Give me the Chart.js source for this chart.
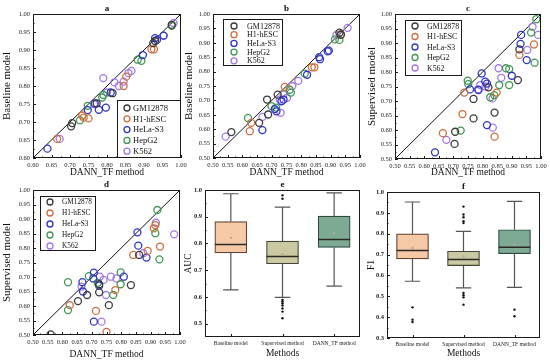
<!DOCTYPE html>
<html>
<head>
<meta charset="utf-8">
<script src="https://cdn.jsdelivr.net/npm/chart.js@4/dist/chart.umd.min.js"></script>
<style>
  body { margin: 0; background: #fff; width: 550px; height: 360px; position: relative; overflow: hidden; }
  canvas { position: absolute; }
</style>
</head>
<body>
<canvas id="pa" width="190" height="178" style="left:0;top:0"></canvas>
<canvas id="pb" width="186" height="178" style="left:182px;top:0"></canvas>
<canvas id="pc" width="185" height="178" style="left:365px;top:0"></canvas>
<canvas id="pd" width="190" height="185" style="left:0;top:175px"></canvas>
<canvas id="pe" width="186" height="185" style="left:182px;top:175px"></canvas>
<canvas id="pf" width="185" height="185" style="left:365px;top:175px"></canvas>
<script>
const SERIF = "'Liberation Serif', 'Times New Roman', serif";

// legend / series
const cellLines = ['GM12878', 'H1-hESC', 'HeLa-S3', 'HepG2', 'K562'];
const cellColors = ['#3a3a3a', '#cc6f3c', '#2f35c8', '#3e9850', '#a478e4'];

// panel a: DANN_TF (x) vs baseline (y)
const aGM12878 = [[0.703,0.688],[0.706,0.697],[0.925,0.919],[0.93,0.925],[0.975,0.970],[0.815,0.780],[0.772,0.752]];
const aH1hESC  = [[0.665,0.653],[0.733,0.718],[0.737,0.712],[0.75,0.710],[0.845,0.800],[0.92,0.902],[0.927,0.902],[0.852,0.826]];
const aHeLaS3  = [[0.639,0.626],[0.797,0.740],[0.778,0.734],[0.767,0.752],[0.748,0.733],[0.897,0.886],[0.93,0.933],[0.953,0.940],[0.81,0.782],[0.935,0.928]];
const aHepG2   = [[0.727,0.705],[0.748,0.745],[0.787,0.768],[0.883,0.873],[0.893,0.870],[0.975,0.967],[0.79,0.775]];
const aK562    = [[0.672,0.653],[0.79,0.822],[0.80,0.782],[0.832,0.800],[0.858,0.836],[0.866,0.842],[0.953,0.940],[0.82,0.810],[0.765,0.750],[0.98,0.975],[0.845,0.812]];

// panel b: DANN_TF (x) vs baseline (y)
const bGM12878 = [[0.5625,0.590],[0.657,0.622],[0.6875,0.651],[0.684,0.703],[0.93,0.935],[0.935,0.928],[0.72,0.720]];
const bH1hESC  = [[0.625,0.593],[0.63,0.622],[0.744,0.747],[0.836,0.815],[0.845,0.815],[0.935,0.930]];
const bHeLaS3  = [[0.668,0.597],[0.716,0.662],[0.733,0.697],[0.74,0.703],[0.861,0.850],[0.864,0.843],[0.894,0.873],[0.89,0.870],[0.82,0.789],[0.71,0.670]];
const bHepG2   = [[0.619,0.639],[0.699,0.680],[0.715,0.675],[0.761,0.737],[0.812,0.793],[0.915,0.912],[0.93,0.910],[0.765,0.727]];
const bK562    = [[0.543,0.574],[0.668,0.643],[0.727,0.703],[0.73,0.657],[0.752,0.709],[0.79,0.768],[0.92,0.927],[0.958,0.952],[0.74,0.720],[0.77,0.750]];

// panel c: DANN_TF (x) vs supervised (y)
const cGM12878 = [[0.704,0.552],[0.706,0.594],[0.769,0.707],[0.769,0.640],[0.841,0.660],[0.926,0.878],[0.921,0.772],[0.82,0.747]];
const cH1hESC  = [[0.664,0.589],[0.731,0.655],[0.737,0.729],[0.841,0.577],[0.926,0.859],[0.976,0.895],[0.848,0.729]];
const cHeLaS3  = [[0.637,0.523],[0.797,0.795],[0.815,0.617],[0.932,0.928],[0.93,0.897],[0.951,0.841],[0.90,0.787],[0.809,0.767],[0.786,0.738],[0.757,0.740],[0.815,0.760]];
const cHepG2   = [[0.725,0.598],[0.749,0.770],[0.751,0.758],[0.826,0.713],[0.857,0.755],[0.88,0.813],[0.891,0.810],[0.891,0.755],[0.966,0.936],[0.978,0.832],[0.984,0.982],[0.84,0.720]];
const cK562    = [[0.676,0.566],[0.784,0.740],[0.792,0.755],[0.835,0.608],[0.855,0.813],[0.864,0.780],[0.834,0.709],[0.953,0.876],[0.971,0.956],[0.99,0.928],[0.81,0.750]];

// panel d: DANN_TF (x) vs supervised (y)
const dGM12878 = [[0.56,0.502],[0.653,0.617],[0.684,0.638],[0.725,0.647],[0.758,0.603],[0.833,0.672],[0.861,0.776],[0.725,0.675]];
const dH1hESC  = [[0.625,0.603],[0.714,0.583],[0.75,0.511],[0.841,0.776],[0.89,0.790],[0.911,0.868],[0.916,0.879],[0.932,0.805],[0.78,0.655]];
const dHeLaS3  = [[0.668,0.682],[0.705,0.695],[0.707,0.715],[0.707,0.546],[0.855,0.854],[0.858,0.808],[0.886,0.767],[0.809,0.701],[0.67,0.650],[0.725,0.670]];
const dHepG2   = [[0.619,0.586],[0.619,0.682],[0.69,0.703],[0.773,0.638],[0.798,0.716],[0.798,0.675],[0.923,0.931],[0.916,0.851],[0.93,0.761],[0.72,0.680]];
const dK562    = [[0.665,0.667],[0.727,0.701],[0.733,0.546],[0.748,0.638],[0.765,0.701],[0.784,0.695],[0.918,0.887],[0.98,0.847],[0.875,0.782],[0.74,0.690]];

const ticksA = [0.60,0.65,0.70,0.75,0.80,0.85,0.90,0.95,1.00];
const ticksBCD = [0.50,0.55,0.60,0.65,0.70,0.75,0.80,0.85,0.90,0.95,1.00];

// box plots e (AUC) and f (F1)
const methods = ['Baseline model', 'Supervised method', 'DANN_TF method'];
const boxFill = ['#f6c9a6', '#cbc9a1', '#7eaa93'];
const boxEdge = ['#5e4232', '#45443a', '#2c4a3e'];

const aucLow  = [0.626, 0.598, 0.640];
const aucQ1   = [0.765, 0.724, 0.785];
const aucMed  = [0.796, 0.751, 0.815];
const aucQ3   = [0.882, 0.809, 0.902];
const aucHigh = [0.986, 0.936, 0.989];
const aucMean = [0.821, 0.759, 0.838];
const aucOut  = [[], [0.980, 0.967, 0.589, 0.583, 0.576, 0.568, 0.557, 0.545, 0.520], []];
const aucTicks = [0.5, 0.6, 0.7, 0.8, 0.9, 1.0];

const f1Low  = [0.572, 0.540, 0.543];
const f1Q1   = [0.679, 0.647, 0.704];
const f1Med  = [0.720, 0.676, 0.735];
const f1Q3   = [0.799, 0.716, 0.819];
const f1High = [0.952, 0.811, 0.955];
const f1Mean = [0.732, 0.690, 0.748];
const f1Out  = [[0.447, 0.388, 0.377], [0.930, 0.892, 0.879, 0.860, 0.851, 0.516, 0.505, 0.495, 0.460], [0.436, 0.404]];
const f1Ticks = [0.3, 0.4, 0.5, 0.6, 0.7, 0.8, 0.9, 1.0];

// frame, inward ticks, panel letter and inset legend
const framePlugin = {
  id: 'frame',
  afterDraw(chart) {
    const opt = chart.options.plugins.frame;
    const { ctx, chartArea: { left, top, right, bottom }, scales } = chart;
    ctx.save();
    ctx.strokeStyle = '#1a1a1a';
    ctx.lineWidth = 1;
    ctx.strokeRect(left + 0.5, top + 0.5, right - left - 1, bottom - top - 1);

    ctx.beginPath();
    const yv = scales.y.ticks.map(t => t.value);
    yv.forEach((v, i) => {
      const p = Math.round(scales.y.getPixelForValue(v)) + 0.5;
      ctx.moveTo(left, p); ctx.lineTo(left + 3, p);
      if (i < yv.length - 1) {
        const m = Math.round(scales.y.getPixelForValue((v + yv[i + 1]) / 2)) + 0.5;
        ctx.moveTo(left, m); ctx.lineTo(left + 1.5, m);
      }
    });
    const xv = scales.x.ticks.map(t => t.value);
    xv.forEach((v, i) => {
      const p = Math.round(scales.x.getPixelForValue(v)) + 0.5;
      ctx.moveTo(p, bottom); ctx.lineTo(p, bottom - 3);
      if (opt.xMinor && i < xv.length - 1) {
        const m = Math.round(scales.x.getPixelForValue((v + xv[i + 1]) / 2)) + 0.5;
        ctx.moveTo(m, bottom); ctx.lineTo(m, bottom - 1.5);
      }
    });
    ctx.stroke();

    ctx.fillStyle = '#111';
    ctx.font = 'bold 9px ' + SERIF;
    ctx.textAlign = 'center';
    ctx.textBaseline = 'bottom';
    ctx.fillText(opt.label, (left + right) / 2, top - 1);

    const lg = opt.legend;
    if (lg) {
      ctx.fillStyle = '#fff';
      ctx.fillRect(left + lg.x, top + lg.y, lg.w, lg.h);
      ctx.strokeStyle = '#1a1a1a';
      ctx.lineWidth = 1;
      ctx.strokeRect(left + lg.x + 0.5, top + lg.y + 0.5, lg.w, lg.h);
      ctx.font = lg.size + 'px ' + SERIF;
      ctx.textAlign = 'left';
      ctx.textBaseline = 'middle';
      chart.data.datasets.filter(d => d.inLegend).forEach((d, i) => {
        const cy = top + lg.y0 + i * lg.step;
        ctx.beginPath();
        ctx.arc(left + lg.mx, cy, 3, 0, Math.PI * 2);
        ctx.strokeStyle = d.borderColor;
        ctx.lineWidth = 1.3;
        ctx.stroke();
        ctx.fillStyle = '#111';
        ctx.fillText(d.label, left + lg.tx, cy + 0.5);
      });
    }
    ctx.restore();
  }
};

function scatterPanel(id, p) {
  const datasets = p.series.map((pts, i) => ({
    label: cellLines[i],
    inLegend: true,
    data: pts.map(([x, y]) => ({ x, y })),
    borderColor: cellColors[i],
    backgroundColor: 'rgba(0,0,0,0)',
    pointRadius: 3.5,
    pointBorderWidth: 1.3
  }));
  datasets.push({
    type: 'line', label: 'y = x',
    data: [{ x: p.min, y: p.min }, { x: 1, y: 1 }],
    borderColor: '#111', borderWidth: 1, pointRadius: 0
  });
  new Chart(document.getElementById(id), {
    type: 'scatter',
    data: { datasets },
    options: {
      responsive: false, animation: false, events: [],
      layout: { padding: { top: p.top, right: p.right, left: 0, bottom: 0 } },
      plugins: { legend: { display: false }, tooltip: { enabled: false },
                 frame: { label: p.label, legend: p.legend, xMinor: true } },
      scales: {
        x: {
          type: 'linear', min: p.min, max: 1,
          afterBuildTicks: s => { s.ticks = p.ticks.map(v => ({ value: v })); },
          afterFit: s => { s.height = p.xh; s.paddingLeft = 0; s.paddingRight = 0; },
          grid: { display: false, drawTicks: false }, border: { display: false },
          ticks: { font: { family: SERIF, size: 6.5 }, color: '#222', padding: 3,
                   maxRotation: 0, autoSkip: false, callback: v => v.toFixed(2) },
          title: { display: true, text: 'DANN_TF method', color: '#111',
                   font: { family: SERIF, size: 9.5 }, padding: { top: 0, bottom: 0 } }
        },
        y: {
          type: 'linear', min: p.min, max: 1,
          afterBuildTicks: s => { s.ticks = p.ticks.map(v => ({ value: v })); },
          afterFit: s => { s.width = p.yw; s.paddingTop = 0; s.paddingBottom = 0; },
          grid: { display: false, drawTicks: false }, border: { display: false },
          ticks: { font: { family: SERIF, size: 6.5 }, color: '#222', padding: 3,
                   autoSkip: false, callback: v => v.toFixed(2) },
          title: { display: true, text: p.yTitle, color: '#111',
                   font: { family: SERIF, size: 11 }, padding: { top: 1, bottom: 0 } }
        }
      }
    },
    plugins: [framePlugin]
  });
}

function boxPanel(id, p) {
  const whisk = [], med = [], mean = [], out = [];
  methods.forEach((m, i) => {
    whisk.push({ x: i, y: p.low[i] }, { x: i, y: p.q1[i] }, { x: i, y: null },
               { x: i, y: p.q3[i] }, { x: i, y: p.high[i] }, { x: i, y: null },
               { x: i - 0.15, y: p.high[i] }, { x: i + 0.15, y: p.high[i] }, { x: i, y: null },
               { x: i - 0.15, y: p.low[i] }, { x: i + 0.15, y: p.low[i] }, { x: i, y: null });
    med.push({ x: i - 0.31, y: p.med[i] }, { x: i + 0.31, y: p.med[i] }, { x: i, y: null });
    mean.push({ x: i, y: p.mean[i] });
    p.out[i].forEach(y => out.push({ x: i, y }));
  });
  new Chart(document.getElementById(id), {
    type: 'scatter',
    data: {
      datasets: [
        { label: 'outliers', data: out, backgroundColor: '#111', borderWidth: 0, pointRadius: 1.2 },
        { label: 'mean', data: mean, pointStyle: 'rect', backgroundColor: '#b3aaa0', borderWidth: 0, pointRadius: 1.5 },
        { type: 'line', label: 'median', data: med, borderColor: '#2b2a24', borderWidth: 1.5, pointRadius: 0, spanGaps: false },
        { type: 'bar', label: 'IQR', data: methods.map((m, i) => ({ x: i, y: [p.q1[i], p.q3[i]] })),
          backgroundColor: boxFill, borderColor: boxEdge, borderWidth: 1.2, borderSkipped: false,
          barThickness: 32, grouped: false },
        { type: 'line', label: 'whiskers', data: whisk, borderColor: '#555', borderWidth: 1.2, pointRadius: 0, spanGaps: false }
      ]
    },
    options: {
      responsive: false, animation: false, events: [],
      layout: { padding: { top: p.top, right: p.right, left: 0, bottom: 0 } },
      plugins: { legend: { display: false }, tooltip: { enabled: false },
                 frame: { label: p.label, xMinor: false } },
      scales: {
        x: {
          type: 'linear', min: -0.5, max: 2.5, offset: false,
          afterBuildTicks: s => { s.ticks = methods.map((m, i) => ({ value: i })); },
          afterFit: s => { s.height = p.xh; s.paddingLeft = 0; s.paddingRight = 0; },
          grid: { display: false, drawTicks: false, offset: false }, border: { display: false },
          ticks: { font: { family: SERIF, size: 5.5 }, color: '#222', padding: 3,
                   maxRotation: 0, autoSkip: false, callback: v => methods[v] },
          title: { display: true, text: 'Methods', color: '#111',
                   font: { family: SERIF, size: 9.5 }, padding: { top: 0, bottom: 1 } }
        },
        y: {
          type: 'linear', min: p.min, max: 1,
          afterBuildTicks: s => { s.ticks = p.ticks.map(v => ({ value: v })); },
          afterFit: s => { s.width = p.yw; s.paddingTop = 0; s.paddingBottom = 0; },
          grid: { display: false, drawTicks: false }, border: { display: false },
          ticks: { font: { family: SERIF, size: 6.5, weight: 'bold' }, color: '#222', padding: 3,
                   autoSkip: false, callback: v => v.toFixed(1) },
          title: { display: true, text: p.yTitle, color: '#111',
                   font: { family: SERIF, size: 9.5 }, padding: { top: 1, bottom: 0 } }
        }
      }
    },
    plugins: [framePlugin]
  });
}

scatterPanel('pa', {
  label: 'a', yTitle: 'Baseline model', min: 0.6, ticks: ticksA,
  series: [aGM12878, aH1hESC, aHeLaS3, aHepG2, aK562],
  top: 14, right: 9, yw: 33, xh: 20,
  legend: { x: 84, y: 86, w: 63, h: 57, y0: 94, step: 10.8, mx: 94, tx: 100, size: 8.5 }
});
scatterPanel('pb', {
  label: 'b', yTitle: 'Baseline model', min: 0.5, ticks: ticksBCD,
  series: [bGM12878, bH1hESC, bHeLaS3, bHepG2, bK562],
  top: 14, right: 8, yw: 31, xh: 20,
  legend: { x: 10, y: 5, w: 59, h: 46, y0: 12, step: 8.7, mx: 21, tx: 34, size: 8 }
});
scatterPanel('pc', {
  label: 'c', yTitle: 'Supervised model', min: 0.5, ticks: ticksBCD,
  series: [cGM12878, cH1hESC, cHeLaS3, cHepG2, cK562],
  top: 14, right: 9, yw: 30, xh: 19,
  legend: { x: 10, y: 6, w: 56, h: 55, y0: 12, step: 10.5, mx: 20, tx: 32, size: 7.8 }
});
scatterPanel('pd', {
  label: 'd', yTitle: 'Supervised model', min: 0.5, ticks: ticksBCD,
  series: [dGM12878, dH1hESC, dHeLaS3, dHepG2, dK562],
  top: 15, right: 10, yw: 33, xh: 25,
  legend: { x: 7, y: 6, w: 55, h: 54, y0: 12, step: 11, mx: 17, tx: 29, size: 7.3 }
});
boxPanel('pe', {
  label: 'e', yTitle: 'AUC', min: 0.45, ticks: aucTicks,
  low: aucLow, q1: aucQ1, med: aucMed, q3: aucQ3, high: aucHigh, mean: aucMean, out: aucOut,
  top: 15, right: 8, yw: 23, xh: 23
});
boxPanel('pf', {
  label: 'f', yTitle: 'F1', min: 0.3, ticks: f1Ticks,
  low: f1Low, q1: f1Q1, med: f1Med, q3: f1Q3, high: f1High, mean: f1Mean, out: f1Out,
  top: 17, right: 10, yw: 22, xh: 22
});
</script>
</body>
</html>
